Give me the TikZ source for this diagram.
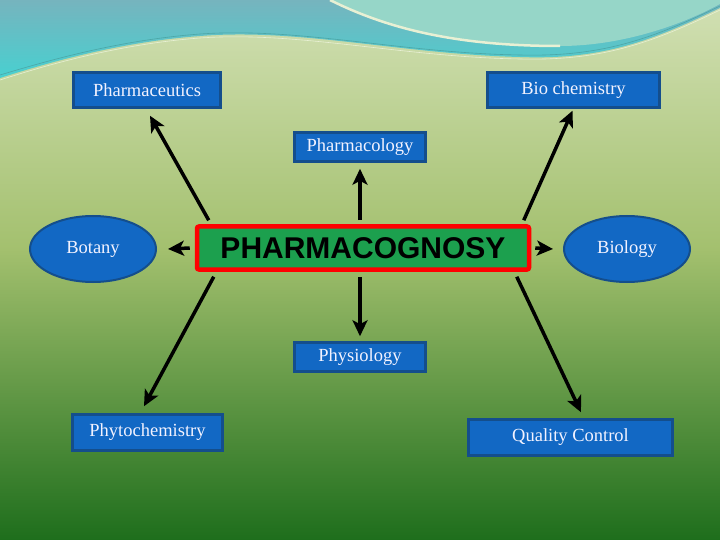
\documentclass[tikz,border=0pt]{standalone}
\usepackage{fontspec}
\setmainfont{Liberation Serif}
\newfontfamily\headfont{Liberation Sans}
\usetikzlibrary{shapes.geometric, arrows.meta}

\definecolor{boxblue}{RGB}{18,104,196}
\definecolor{boxedge}{RGB}{20,78,140}
\definecolor{coregreen}{RGB}{28,160,78}
\definecolor{bgtop}{RGB}{210,224,180}
\definecolor{bgmid}{RGB}{163,192,110}
\definecolor{bgbot}{RGB}{30,110,28}
\definecolor{tealdark}{RGB}{118,180,190}
\definecolor{tealbright}{RGB}{72,208,208}
\definecolor{aqua}{RGB}{150,214,200}
\definecolor{paleline}{RGB}{232,240,212}

\begin{document}
\begin{tikzpicture}[
        x=1pt, y=-1pt,
        box/.style={rectangle, draw=boxedge, line width=2.5pt, fill=boxblue, text=white!95!blue, inner sep=0pt, font=\fontsize{18.5}{20}\selectfont},
        oval/.style={ellipse, draw=boxedge, line width=2pt, fill=boxblue, text=white!95!blue, inner sep=0pt, minimum width=126pt, minimum height=66pt, font=\fontsize{18.5}{20}\selectfont},
        core/.style={rectangle, draw=red, line width=4.5pt, fill=coregreen, rounded corners=2pt, inner sep=0pt, minimum width=332pt, minimum height=43pt, font=\headfont\bfseries\fontsize{30}{32}\selectfont},
        arrow/.style={-{Stealth[length=16pt, width=15pt, inset=4pt]}, line width=3.5pt, draw=black}
    ]
    \useasboundingbox (0,0) rectangle (720,540);
    % Background
    \shade[top color=bgtop, bottom color=bgmid] (0,0) rectangle (720,250);
    \shade[top color=bgmid, bottom color=bgbot] (0,249) rectangle (720,540);
    \shade[top color=tealdark, bottom color=tealbright]
        (0,0) -- (720,0) -- (720,8) .. controls (650,42) and (600,60) .. (520,57)
        .. controls (400,54) and (300,28) .. (200,36) .. controls (120,42) and (50,62) .. (0,78) -- cycle;
    \fill[aqua] (330,0) .. controls (390,30) and (460,46) .. (560,46)
        .. controls (620,46) and (680,26) .. (720,4) -- (720,0) -- cycle;
    \draw[paleline, line width=2.5pt] (330,0) .. controls (390,30) and (460,46) .. (560,46);
    \draw[teal!70, line width=0.6pt] (0,75) .. controls (50,60) and (120,40) .. (200,34)
        .. controls (300,27) and (400,53) .. (520,55) .. controls (600,57) and (650,40) .. (720,6);
    \draw[paleline, line width=0.6pt] (0,80) .. controls (50,64) and (120,44) .. (200,38)
        .. controls (300,31) and (400,57) .. (520,59) .. controls (600,61) and (650,44) .. (720,10);

    % Nodes
    \node (pg) [core] at (363,248) {PHARMACOGNOSY};
    \node (pharmaceutics) [box, minimum width=147pt, minimum height=35pt] at (147,90) {Pharmaceutics};
    \node (biochem) [box, minimum width=172pt, minimum height=35pt] at (573.5,90) {Bio chemistry};
    \node (pharmacology) [box, minimum width=131pt, minimum height=29pt] at (360,147) {Pharmacology};
    \node (botany) [oval] at (93,249) {Botany};
    \node (biology) [oval] at (627,249) {Biology};
    \node (physiology) [box, minimum width=131pt, minimum height=29pt] at (360,357) {Physiology};
    \node (phyto) [box, minimum width=150pt, minimum height=36pt] at (147.5,432.5) {Phytochemistry};
    \node (quality) [box, minimum width=204pt, minimum height=36pt] at (570.5,437.5) {Quality Control};

    % Arrows
    \draw [arrow] ([xshift=14pt, yshift=4pt]pg.north west) -- ([xshift=3pt, yshift=-7pt]pharmaceutics.south);
    \draw [arrow] ([xshift=-7.5pt, yshift=4pt]pg.north east) -- ([xshift=-1pt, yshift=-2pt]biochem.south);
    \draw [arrow] ([xshift=-3pt, yshift=4pt]pg.north) -- ([yshift=-6pt]pharmacology.south);
    \draw [arrow] ([xshift=-3pt, yshift=-5pt]pg.south) -- ([yshift=5pt]physiology.north);
    \draw [arrow] ([xshift=19pt, yshift=-5pt]pg.south west) -- ([xshift=-3.5pt, yshift=7pt]phyto.north);
    \draw [arrow] ([xshift=-14.5pt, yshift=-5pt]pg.south east) -- ([xshift=10.5pt, yshift=6pt]quality.north);
    \draw [arrow] ([xshift=-5pt]pg.west) -- ([xshift=11pt]botany.east);
    \draw [arrow] ([xshift=4pt]pg.east) -- ([xshift=-10pt]biology.west);
\end{tikzpicture}
\end{document}
